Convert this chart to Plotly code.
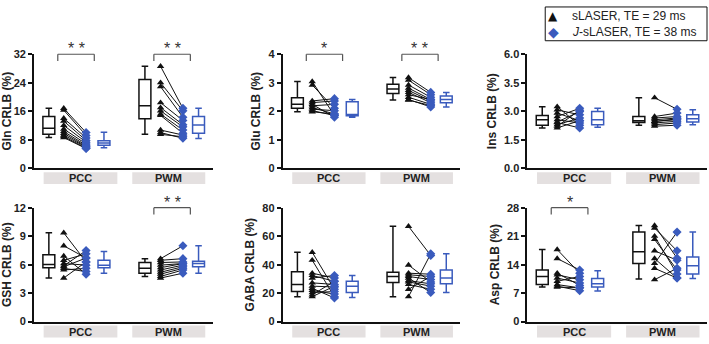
import plotly.graph_objects as go

# ---------------- data ----------------
regions = ["PCC", "PWM"]
metabolites = ["Gln", "Glu", "Ins", "GSH", "GABA", "Asp"]
legend_names = ["sLASER, TE = 29 ms", "<i>J</i>-sLASER, TE = 38 ms"]

# paired subject values: sLASER (TE=29) -> J-sLASER (TE=38)
gln_pcc_sl = [16.8, 16.3, 14.0, 13.2, 12.0, 11.0, 10.3, 9.8, 9.3, 8.9, 8.6]
gln_pcc_jsl = [10.0, 9.2, 8.5, 7.8, 7.3, 6.8, 6.4, 6.1, 5.9, 5.6, 5.5]
gln_pwm_sl = [28.6, 24.0, 22.9, 18.4, 17.0, 16.1, 15.2, 14.8, 10.7, 10.0, 9.5]
gln_pwm_jsl = [16.8, 16.1, 14.3, 13.4, 12.2, 11.6, 10.7, 9.8, 9.3, 8.4, 8.8]

glu_pcc_sl = [3.04, 2.92, 2.36, 2.30, 2.24, 2.19, 2.13, 2.07, 2.02, 1.98]
glu_pcc_jsl = [1.85, 2.10, 2.44, 2.36, 1.79, 2.24, 1.90, 2.02, 1.85, 1.90]
glu_pwm_sl = [3.18, 3.09, 2.92, 2.81, 2.73, 2.66, 2.58, 2.49, 2.41, 2.39]
glu_pwm_jsl = [2.66, 2.58, 2.49, 2.41, 2.36, 2.30, 2.41, 2.24, 2.15, 2.20]

ins_pcc_sl = [3.24, 3.07, 2.90, 2.72, 2.55, 2.43, 2.29, 2.21, 2.12, 2.40]
ins_pcc_jsl = [2.26, 2.81, 2.50, 3.15, 2.38, 2.98, 2.64, 3.05, 2.50, 2.12]
ins_pwm_sl = [3.71, 2.72, 2.64, 2.55, 2.47, 2.38, 2.29, 2.21, 2.45]
ins_pwm_jsl = [3.10, 2.90, 2.72, 2.64, 2.55, 2.47, 2.38, 2.26, 2.60]

gsh_pcc_sl = [9.35, 7.99, 6.90, 6.46, 6.12, 5.88, 5.78, 5.61, 5.44, 4.59]
gsh_pcc_jsl = [6.29, 6.70, 5.00, 7.14, 5.95, 7.48, 6.70, 5.27, 5.61, 6.29]
gsh_pwm_sl = [6.63, 6.46, 6.22, 5.95, 5.68, 5.44, 5.20, 5.00, 4.76, 4.59]
gsh_pwm_jsl = [7.99, 6.63, 6.29, 6.12, 6.12, 5.95, 5.78, 5.61, 5.44, 5.10]

gaba_pcc_sl = [48.7, 43.1, 34.0, 32.4, 30.6, 27.2, 24.9, 23.4, 22.0, 20.4, 18.8, 17.5]
gaba_pcc_jsl = [22.7, 17.5, 30.6, 28.3, 32.4, 26.1, 24.3, 16.6, 19.3, 21.1, 28.3, 24.9]
gaba_pwm_sl = [66.9, 39.7, 34.0, 32.9, 31.7, 30.6, 28.8, 27.9, 26.1, 22.7, 17.5]
gaba_pwm_jsl = [46.5, 27.9, 33.3, 31.7, 29.5, 20.4, 26.5, 24.9, 22.7, 31.7, 47.6]

asp_pcc_sl = [17.7, 15.5, 11.9, 11.5, 10.7, 9.9, 9.1, 8.7, 8.5]
asp_pcc_jsl = [11.9, 12.7, 8.9, 10.3, 9.5, 11.1, 8.3, 7.6, 8.3]
asp_pwm_sl = [23.6, 23.0, 21.0, 20.2, 17.4, 15.5, 14.3, 13.1, 10.3]
asp_pwm_jsl = [15.6, 17.4, 11.7, 12.7, 15.1, 10.7, 22.0, 10.7, 13.1]

# box statistics [PCC, PWM]: lower whisker, q1, median, q3, upper whisker
gln_box_sl = dict(lo=[8.6, 9.5], q1=[9.5, 13.9], med=[11.2, 17.5], q3=[14.5, 24.9], hi=[16.8, 28.6])
gln_box_jsl = dict(lo=[5.7, 8.3], q1=[6.4, 9.8], med=[7.1, 12.1], q3=[7.7, 14.5], hi=[10.1, 16.8])
glu_box_sl = dict(lo=[1.98, 2.39], q1=[2.10, 2.62], med=[2.24, 2.78], q3=[2.47, 2.95], hi=[3.04, 3.18])
glu_box_jsl = dict(lo=[1.79, 2.15], q1=[1.84, 2.30], med=[1.88, 2.41], q3=[2.33, 2.53], hi=[2.41, 2.66])
ins_box_sl = dict(lo=[2.12, 2.26], q1=[2.26, 2.41], med=[2.55, 2.50], q3=[2.78, 2.72], hi=[3.24, 3.71])
ins_box_jsl = dict(lo=[2.16, 2.29], q1=[2.29, 2.43], med=[2.55, 2.60], q3=[2.98, 2.81], hi=[3.15, 3.07])
gsh_box_sl = dict(lo=[4.59, 4.76], q1=[5.68, 5.10], med=[6.02, 5.61], q3=[7.04, 6.22], hi=[9.35, 6.63])
gsh_box_jsl = dict(lo=[5.10, 5.10], q1=[5.68, 5.78], med=[5.95, 6.12], q3=[6.46, 6.36], hi=[7.38, 7.99])
gaba_box_sl = dict(lo=[17.5, 17.5], q1=[21.1, 27.4], med=[26.1, 31.7], q3=[35.1, 34.7], hi=[48.7, 66.9])
gaba_box_jsl = dict(lo=[17.0, 20.4], q1=[20.4, 26.5], med=[24.9, 30.6], q3=[28.3, 36.3], hi=[32.4, 47.6])
asp_box_sl = dict(lo=[8.5, 10.5], q1=[9.1, 14.3], med=[11.1, 17.2], q3=[12.7, 22.0], hi=[17.7, 23.6])
asp_box_jsl = dict(lo=[7.5, 10.6], q1=[8.5, 11.7], med=[9.3, 13.7], q3=[10.6, 15.9], hi=[12.5, 22.0])

# y axes
gln_ticks = [0, 8, 16, 24, 32]
glu_ticks = [0, 1, 2, 3, 4]
ins_ticks = [0, 1.5, 3.0, 4.5, 6.0]
ins_ticktext = ["0.0", "1.5", "3.0", "3.5", "6.0"]
gsh_ticks = [0, 3, 6, 9, 12]
gaba_ticks = [0, 20, 40, 60, 80]
asp_ticks = [0, 7, 14, 21, 28]

# significance [PCC, PWM]
gln_sig = ["* *", "* *"]
glu_sig = ["*", "* *"]
ins_sig = ["", ""]
gsh_sig = ["", "* *"]
gaba_sig = ["", ""]
asp_sig = ["*", ""]

panels = [
    ("Gln", [(gln_pcc_sl, gln_pcc_jsl), (gln_pwm_sl, gln_pwm_jsl)], gln_box_sl, gln_box_jsl, gln_ticks, None, gln_sig),
    ("Glu", [(glu_pcc_sl, glu_pcc_jsl), (glu_pwm_sl, glu_pwm_jsl)], glu_box_sl, glu_box_jsl, glu_ticks, None, glu_sig),
    ("Ins", [(ins_pcc_sl, ins_pcc_jsl), (ins_pwm_sl, ins_pwm_jsl)], ins_box_sl, ins_box_jsl, ins_ticks, ins_ticktext, ins_sig),
    ("GSH", [(gsh_pcc_sl, gsh_pcc_jsl), (gsh_pwm_sl, gsh_pwm_jsl)], gsh_box_sl, gsh_box_jsl, gsh_ticks, None, gsh_sig),
    ("GABA", [(gaba_pcc_sl, gaba_pcc_jsl), (gaba_pwm_sl, gaba_pwm_jsl)], gaba_box_sl, gaba_box_jsl, gaba_ticks, None, gaba_sig),
    ("Asp", [(asp_pcc_sl, asp_pcc_jsl), (asp_pwm_sl, asp_pwm_jsl)], asp_box_sl, asp_box_jsl, asp_ticks, None, asp_sig),
]

# ---------------- style / layout ----------------
BLUE = "#3a5bbd"
BLACK = "#111111"
FONT = "Arial, Liberation Sans, sans-serif"
GRAY_BOX = "#e4e0e0"

# x positions per region: [box sLASER, points sLASER, points J-sLASER, box J-sLASER]
pos = {0: [1.0, 2.0, 3.5, 4.7], 1: [7.45, 8.5, 10.0, 11.05]}
label_span = [(0.65, 5.6), (6.6, 11.5)]
bracket_span = [(1.6, 4.05), (8.05, 10.5)]

W, H = 709, 344
col_dom = [(33 / W, 212 / W), (282 / W, 460 / W), (527 / W, 707 / W)]
row_dom = [(1 - 168 / H, 1 - 50 / H), (1 - 327 / H, 1 - 209 / H)]

fig = go.Figure()
shapes = []
annotations = []
layout = {}

for i, (name, pairs, bsl, bjsl, ticks, ticktext, sig) in enumerate(panels):
    r, c = divmod(i, 3)
    n = "" if i == 0 else str(i + 1)
    xa, ya = "x" + n, "y" + n
    xref, ydom = xa, ya + " domain"

    layout["xaxis" + n] = dict(domain=list(col_dom[c]), anchor=ya, range=[0, 12],
                               showline=True, linecolor=BLACK, linewidth=1.6,
                               showticklabels=False, ticks="", showgrid=False, zeroline=False,
                               fixedrange=True)
    layout["yaxis" + n] = dict(domain=list(row_dom[r]), anchor=xa, range=[0, ticks[-1]],
                               showline=True, linecolor=BLACK, linewidth=1.6,
                               ticks="outside", ticklen=4, tickwidth=1.5, tickcolor=BLACK,
                               tickvals=ticks, ticktext=ticktext if ticktext else [str(t) for t in ticks],
                               tickfont=dict(family=FONT, size=11, color="#222", weight="bold"),
                               title=dict(text=name + " CRLB (%)", standoff=5,
                                          font=dict(family=FONT, size=12, color="#222", weight="bold")),
                               showgrid=False, zeroline=False, fixedrange=True)

    # boxes
    for stats, color, k in [(bsl, BLACK, 0), (bjsl, BLUE, 3)]:
        fig.add_trace(go.Box(x=[pos[0][k], pos[1][k]], q1=stats["q1"], median=stats["med"],
                             q3=stats["q3"], lowerfence=stats["lo"], upperfence=stats["hi"],
                             width=0.8, whiskerwidth=0.55, fillcolor="rgba(255,255,255,0)",
                             line=dict(color=color, width=1.5), boxpoints=False,
                             xaxis=xa, yaxis=ya, showlegend=False, hoverinfo="skip"))

    # paired lines + markers
    for reg, (sl, jsl) in enumerate(pairs):
        xt, xd = pos[reg][1], pos[reg][2]
        lx, ly = [], []
        for a, b in zip(sl, jsl):
            lx += [xt, xd, None]
            ly += [a, b, None]
        fig.add_trace(go.Scatter(x=lx, y=ly, mode="lines", line=dict(color=BLACK, width=1),
                                 xaxis=xa, yaxis=ya, showlegend=False, hoverinfo="skip"))
        fig.add_trace(go.Scatter(x=[xt] * len(sl), y=sl, mode="markers",
                                 marker=dict(symbol="triangle-up", size=6.5, color=BLACK),
                                 xaxis=xa, yaxis=ya, showlegend=False, cliponaxis=False))
        fig.add_trace(go.Scatter(x=[xd] * len(jsl), y=jsl, mode="markers",
                                 marker=dict(symbol="diamond", size=7, color=BLUE),
                                 xaxis=xa, yaxis=ya, showlegend=False, cliponaxis=False))

        # region label boxes
        x0, x1 = label_span[reg]
        shapes.append(dict(type="rect", xref=xref, yref=ydom, x0=x0, x1=x1, y0=-0.14, y1=-0.035,
                           fillcolor=GRAY_BOX, line=dict(width=0), layer="below"))
        annotations.append(dict(x=(x0 + x1) / 2, y=-0.0875, xref=xref, yref=ydom,
                                text=regions[reg], showarrow=False, yanchor="middle",
                                font=dict(family=FONT, size=11, color="#222", weight="bold")))

        # significance brackets
        if sig[reg]:
            b0, b1 = bracket_span[reg]
            lc = dict(color="#555", width=1.2)
            shapes.append(dict(type="line", xref=xref, yref=ydom, x0=b0, x1=b1, y0=1.0, y1=1.0, line=lc))
            shapes.append(dict(type="line", xref=xref, yref=ydom, x0=b0, x1=b0, y0=0.94, y1=1.0, line=lc))
            shapes.append(dict(type="line", xref=xref, yref=ydom, x0=b1, x1=b1, y0=0.94, y1=1.0, line=lc))
            annotations.append(dict(x=(b0 + b1) / 2, y=1.0, xref=xref, yref=ydom, text=sig[reg],
                                    showarrow=False, yanchor="bottom", yshift=-5,
                                    font=dict(family=FONT, size=16, color="#333")))

# legend (drawn as a bordered box with symbol glyphs and labels)
leg_x0, leg_x1 = 545 / W, 707 / W
leg_y0, leg_y1 = 1 - 36 / H, 1 - 1 / H
shapes.append(dict(type="rect", xref="paper", yref="paper", x0=leg_x0, x1=leg_x1, y0=leg_y0, y1=leg_y1,
                   line=dict(color=BLACK, width=1), fillcolor="white"))
for k, (sym, col) in enumerate([("▲", BLACK), ("◆", BLUE)]):
    yy = 1 - (10 + 17 * k) / H
    annotations.append(dict(x=553 / W, y=yy, xref="paper", yref="paper", text=sym, showarrow=False,
                            xanchor="center", yanchor="middle",
                            font=dict(family="DejaVu Sans", size=12 if k == 0 else 14, color=col)))
    annotations.append(dict(x=570 / W, y=yy, xref="paper", yref="paper", text=legend_names[k],
                            showarrow=False, xanchor="left", yanchor="middle",
                            font=dict(family=FONT, size=12, color="#222")))

fig.update_layout(
    width=W, height=H, margin=dict(l=0, r=0, t=0, b=0),
    paper_bgcolor="white", plot_bgcolor="white",
    boxmode="overlay", showlegend=False,
    shapes=shapes, annotations=annotations,
    **layout,
)

fig.write_html("out.html", config={"displayModeBar": False},
               post_script="document.body.style.margin='0';")
